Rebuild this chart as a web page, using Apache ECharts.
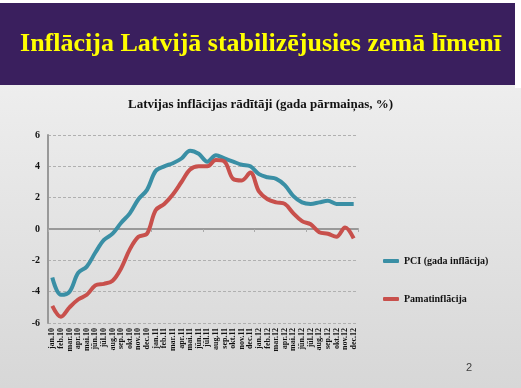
<!DOCTYPE html>
<html><head><meta charset="utf-8">
<script src="https://cdn.jsdelivr.net/npm/echarts@6/dist/echarts.min.js"></script>
<style>html,body{margin:0;padding:0;background:#fff}#c{width:521px;height:388px}</style>
</head><body><div id="c"></div>
<script>
const categories = ['jan.10','feb.10','mar.10','apr.10','mai.10','jūn.10','jūl.10','aug.10','sep.10','okt.10','nov.10','dec.10',
  'jan.11','feb.11','mar.11','apr.11','mai.11','jūn.11','jūl.11','aug.11','sep.11','okt.11','nov.11','dec.11',
  'jan.12','feb.12','mar.12','apr.12','mai.12','jūn.12','jūl.12','aug.12','sep.12','okt.12','nov.12','dec.12'];
const pci = [-3.1,-4.2,-4.0,-2.8,-2.4,-1.5,-0.7,-0.3,0.4,1.0,1.9,2.5,
  3.7,4.0,4.2,4.5,5.0,4.8,4.3,4.7,4.5,4.3,4.1,4.0,
  3.5,3.3,3.2,2.8,2.1,1.7,1.6,1.7,1.8,1.6,1.6,1.6];
const pamat = [-4.9,-5.6,-5.0,-4.5,-4.2,-3.6,-3.5,-3.3,-2.5,-1.3,-0.5,-0.3,
  1.2,1.6,2.2,3.0,3.8,4.0,4.0,4.4,4.3,3.2,3.1,3.6,
  2.4,1.9,1.7,1.6,1.0,0.5,0.3,-0.2,-0.3,-0.5,0.1,-0.6];
const seriesNames = ['PCI (gada inflācija)','Pamatinflācija'];
const yMin = -6, yMax = 6, yStep = 2;
const bannerText = 'Inflācija Latvijā stabilizējusies zemā līmenī';
const chartTitle = 'Latvijas inflācijas rādītāji (gada pārmaiņas, %)';
const pageNumber = '2';

const serif = '"Liberation Serif","Times New Roman",serif';
const chart = echarts.init(document.getElementById('c'));
chart.setOption({
  backgroundColor: {type:'linear',x:0,y:0,x2:0,y2:1,colorStops:[{offset:0,color:'#f4f4f4'},{offset:1,color:'#d7d7d7'}]},
  animation:false,
  graphic:[
    {type:'rect',z:0,shape:{x:0,y:3,width:515,height:82},style:{fill:'#3a1f5e'}},
    {type:'rect',z:0,shape:{x:515,y:0,width:6,height:88},style:{fill:'#ffffff'}},
    {type:'rect',z:0,shape:{x:0,y:0,width:521,height:3},style:{fill:'#ffffff'}},
    {type:'text',z:1,left:'center',top:31,style:{text:bannerText,fill:'#ffff00',font:'bold 26px '+serif}},
    {type:'text',z:1,left:466,top:362,style:{text:pageNumber,fill:'#404040',font:'11px "Liberation Sans",Arial,sans-serif'}}
  ],
  title:{text:chartTitle,left:'center',top:93,textStyle:{fontFamily:serif,fontWeight:'bold',fontSize:13,color:'#111'}},
  legend:{orient:'vertical',left:378,top:251,itemWidth:16,itemHeight:4,itemGap:28,icon:'roundRect',
    textStyle:{fontFamily:serif,fontWeight:'bold',fontSize:10,color:'#111'},data:seriesNames},
  grid:{left:48,right:163,top:135,bottom:65},
  xAxis:[
    {type:'category',data:categories,boundaryGap:true,position:'bottom',
     axisLine:{show:false,onZero:false},axisTick:{show:false},
     axisLabel:{rotate:90,interval:0,fontFamily:serif,fontWeight:'bold',fontSize:8,color:'#111',margin:5}},
    {type:'category',data:categories,boundaryGap:true,position:'bottom',
     axisLine:{show:true,onZero:true,lineStyle:{color:'#999',width:2}},
     axisTick:{show:true,length:3,lineStyle:{color:'#aaa'}},axisLabel:{show:false}}
  ],
  yAxis:{type:'value',min:yMin,max:yMax,interval:yStep,
    axisLine:{show:true,lineStyle:{color:'#999',width:2}},axisTick:{show:false},
    axisLabel:{fontFamily:serif,fontWeight:'bold',fontSize:10,color:'#111',margin:8},
    splitLine:{show:true,lineStyle:{color:'#b0b0b0',type:[3,2],width:1}}},
  series:[
    {name:seriesNames[0],type:'line',data:pci,smooth:0.35,symbol:'none',xAxisIndex:0,
     lineStyle:{color:'#3a8fa5',width:4},itemStyle:{color:'#3a8fa5'}},
    {name:seriesNames[1],type:'line',data:pamat,smooth:0.35,symbol:'none',xAxisIndex:0,
     lineStyle:{color:'#c8504c',width:4},itemStyle:{color:'#c8504c'}}
  ]
});
</script></body></html>
